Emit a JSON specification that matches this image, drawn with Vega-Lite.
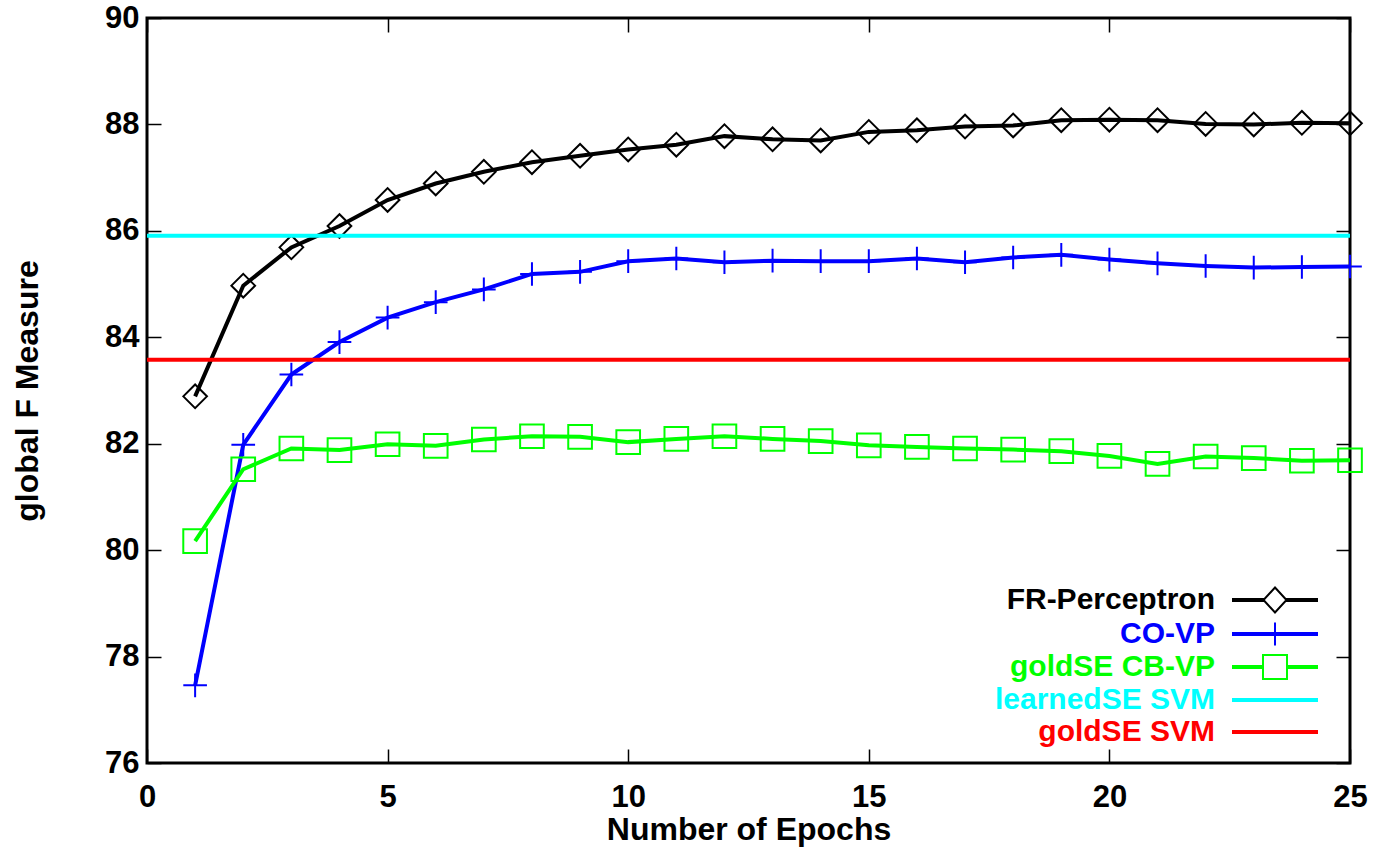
{
  "$schema": "https://vega.github.io/schema/vega-lite/v6.json",
  "autosize": {"type": "none"},
  "padding": {"left": 147, "top": 18, "right": 29, "bottom": 87},
  "width": 1203,
  "height": 745,
  "background": "white",
  "config": {
    "view": {"stroke": "black", "strokeWidth": 3},
    "font": "Liberation Sans",
    "axis": {
      "domain": false,
      "grid": false,
      "tickColor": "black",
      "tickWidth": 1.5,
      "tickSize": -14,
      "labelFont": "Liberation Sans",
      "labelFontWeight": "bold",
      "labelFontSize": 31,
      "labelColor": "black",
      "titleFont": "Liberation Sans",
      "titleFontWeight": "bold",
      "titleFontSize": 32,
      "titleColor": "black",
      "labelFlush": false,
      "labelOverlap": false
    },
    "legend": {
      "orient": "none",
      "legendX": 1112,
      "legendY": 566,
      "padding": 0,
      "labelFont": "Liberation Sans",
      "labelFontSize": 30,
      "labelFontWeight": "bold",
      "labelAlign": "right",
      "labelOffset": -76,
      "labelLimit": 400,
      "symbolSize": 900,
      "symbolStrokeWidth": 2,
      "rowPadding": 1
    }
  },
  "datasets": {
    "series": [
      {"epoch": 1, "series": "FR-Perceptron", "f": 82.89},
      {"epoch": 2, "series": "FR-Perceptron", "f": 84.97},
      {"epoch": 3, "series": "FR-Perceptron", "f": 85.69},
      {"epoch": 4, "series": "FR-Perceptron", "f": 86.09},
      {"epoch": 5, "series": "FR-Perceptron", "f": 86.58},
      {"epoch": 6, "series": "FR-Perceptron", "f": 86.89},
      {"epoch": 7, "series": "FR-Perceptron", "f": 87.11},
      {"epoch": 8, "series": "FR-Perceptron", "f": 87.29},
      {"epoch": 9, "series": "FR-Perceptron", "f": 87.41},
      {"epoch": 10, "series": "FR-Perceptron", "f": 87.53},
      {"epoch": 11, "series": "FR-Perceptron", "f": 87.62},
      {"epoch": 12, "series": "FR-Perceptron", "f": 87.78},
      {"epoch": 13, "series": "FR-Perceptron", "f": 87.72},
      {"epoch": 14, "series": "FR-Perceptron", "f": 87.70},
      {"epoch": 15, "series": "FR-Perceptron", "f": 87.86},
      {"epoch": 16, "series": "FR-Perceptron", "f": 87.89},
      {"epoch": 17, "series": "FR-Perceptron", "f": 87.96},
      {"epoch": 18, "series": "FR-Perceptron", "f": 87.98},
      {"epoch": 19, "series": "FR-Perceptron", "f": 88.08},
      {"epoch": 20, "series": "FR-Perceptron", "f": 88.09},
      {"epoch": 21, "series": "FR-Perceptron", "f": 88.08},
      {"epoch": 22, "series": "FR-Perceptron", "f": 88.01},
      {"epoch": 23, "series": "FR-Perceptron", "f": 88.00},
      {"epoch": 24, "series": "FR-Perceptron", "f": 88.03},
      {"epoch": 25, "series": "FR-Perceptron", "f": 88.02},
      {"epoch": 1, "series": "CO-VP", "f": 77.46},
      {"epoch": 2, "series": "CO-VP", "f": 81.98},
      {"epoch": 3, "series": "CO-VP", "f": 83.30},
      {"epoch": 4, "series": "CO-VP", "f": 83.91},
      {"epoch": 5, "series": "CO-VP", "f": 84.37},
      {"epoch": 6, "series": "CO-VP", "f": 84.66},
      {"epoch": 7, "series": "CO-VP", "f": 84.90},
      {"epoch": 8, "series": "CO-VP", "f": 85.19},
      {"epoch": 9, "series": "CO-VP", "f": 85.23},
      {"epoch": 10, "series": "CO-VP", "f": 85.43},
      {"epoch": 11, "series": "CO-VP", "f": 85.48},
      {"epoch": 12, "series": "CO-VP", "f": 85.41},
      {"epoch": 13, "series": "CO-VP", "f": 85.44},
      {"epoch": 14, "series": "CO-VP", "f": 85.43},
      {"epoch": 15, "series": "CO-VP", "f": 85.43},
      {"epoch": 16, "series": "CO-VP", "f": 85.48},
      {"epoch": 17, "series": "CO-VP", "f": 85.41},
      {"epoch": 18, "series": "CO-VP", "f": 85.50},
      {"epoch": 19, "series": "CO-VP", "f": 85.55},
      {"epoch": 20, "series": "CO-VP", "f": 85.46},
      {"epoch": 21, "series": "CO-VP", "f": 85.39},
      {"epoch": 22, "series": "CO-VP", "f": 85.34},
      {"epoch": 23, "series": "CO-VP", "f": 85.31},
      {"epoch": 24, "series": "CO-VP", "f": 85.32},
      {"epoch": 25, "series": "CO-VP", "f": 85.33},
      {"epoch": 1, "series": "goldSE CB-VP", "f": 80.17},
      {"epoch": 2, "series": "goldSE CB-VP", "f": 81.52},
      {"epoch": 3, "series": "goldSE CB-VP", "f": 81.91},
      {"epoch": 4, "series": "goldSE CB-VP", "f": 81.88},
      {"epoch": 5, "series": "goldSE CB-VP", "f": 81.99},
      {"epoch": 6, "series": "goldSE CB-VP", "f": 81.96},
      {"epoch": 7, "series": "goldSE CB-VP", "f": 82.08},
      {"epoch": 8, "series": "goldSE CB-VP", "f": 82.14},
      {"epoch": 9, "series": "goldSE CB-VP", "f": 82.13},
      {"epoch": 10, "series": "goldSE CB-VP", "f": 82.03},
      {"epoch": 11, "series": "goldSE CB-VP", "f": 82.09},
      {"epoch": 12, "series": "goldSE CB-VP", "f": 82.14},
      {"epoch": 13, "series": "goldSE CB-VP", "f": 82.09},
      {"epoch": 14, "series": "goldSE CB-VP", "f": 82.05},
      {"epoch": 15, "series": "goldSE CB-VP", "f": 81.97},
      {"epoch": 16, "series": "goldSE CB-VP", "f": 81.94},
      {"epoch": 17, "series": "goldSE CB-VP", "f": 81.91},
      {"epoch": 18, "series": "goldSE CB-VP", "f": 81.89},
      {"epoch": 19, "series": "goldSE CB-VP", "f": 81.86},
      {"epoch": 20, "series": "goldSE CB-VP", "f": 81.77},
      {"epoch": 21, "series": "goldSE CB-VP", "f": 81.62},
      {"epoch": 22, "series": "goldSE CB-VP", "f": 81.76},
      {"epoch": 23, "series": "goldSE CB-VP", "f": 81.73},
      {"epoch": 24, "series": "goldSE CB-VP", "f": 81.68},
      {"epoch": 25, "series": "goldSE CB-VP", "f": 81.69}
    ],
    "svm": [
      {"series": "learnedSE SVM", "f": 85.91},
      {"series": "goldSE SVM", "f": 83.58}
    ]
  },
  "resolve": {
    "axis": {"x": "independent", "y": "independent"},
    "scale": {"shape": "independent"}
  },
  "layer": [
    {
      "data": {"name": "series"},
      "mark": {"type": "line", "strokeWidth": 4},
      "encoding": {
        "x": {"field": "epoch", "type": "quantitative",
              "scale": {"domain": [0, 25], "nice": false, "zero": false},
              "axis": {"orient": "bottom", "values": [0, 5, 10, 15, 20, 25], "title": "Number of Epochs", "labelPadding": 33, "titlePadding": 2}},
        "y": {"field": "f", "type": "quantitative",
              "scale": {"domain": [76, 90], "nice": false, "zero": false},
              "axis": {"orient": "left", "values": [76, 78, 80, 82, 84, 86, 88, 90], "title": "global F Measure", "labelPadding": 22, "titlePadding": 60}},
        "color": {"field": "series", "type": "nominal",
                  "scale": {"domain": ["FR-Perceptron", "CO-VP", "goldSE CB-VP", "learnedSE SVM", "goldSE SVM"],
                            "range": ["#000000", "#0000ff", "#00ff00", "#00ffff", "#ff0000"]},
                  "legend": null},
        "detail": {"field": "series"}
      }
    },
    {
      "data": {"name": "series"},
      "mark": {"type": "point", "filled": false, "size": 560, "strokeWidth": 2, "opacity": 1},
      "encoding": {
        "x": {"field": "epoch", "type": "quantitative",
              "scale": {"domain": [0, 25], "nice": false, "zero": false},
              "axis": {"orient": "top", "values": [0, 5, 10, 15, 20, 25], "labels": false, "title": null}},
        "y": {"field": "f", "type": "quantitative",
              "scale": {"domain": [76, 90], "nice": false, "zero": false},
              "axis": {"orient": "right", "values": [76, 78, 80, 82, 84, 86, 88, 90], "labels": false, "title": null}},
        "color": {"field": "series", "type": "nominal",
                  "scale": {"domain": ["FR-Perceptron", "CO-VP", "goldSE CB-VP", "learnedSE SVM", "goldSE SVM"],
                            "range": ["#000000", "#0000ff", "#00ff00", "#00ffff", "#ff0000"]},
                  "legend": null},
        "shape": {"field": "series", "type": "nominal",
                  "scale": {"domain": ["FR-Perceptron", "CO-VP", "goldSE CB-VP"],
                            "range": ["diamond", "M-1,0L1,0M0,-1L0,1", "square"]},
                  "legend": null}
      }
    },
    {
      "data": {"name": "svm"},
      "mark": {"type": "rule", "strokeWidth": 4},
      "encoding": {
        "y": {"field": "f", "type": "quantitative",
              "scale": {"domain": [76, 90], "nice": false, "zero": false},
              "axis": null},
        "color": {"field": "series", "type": "nominal",
                  "scale": {"domain": ["FR-Perceptron", "CO-VP", "goldSE CB-VP", "learnedSE SVM", "goldSE SVM"],
                            "range": ["#000000", "#0000ff", "#00ff00", "#00ffff", "#ff0000"]},
                  "legend": null}
      }
    },
    {
      "data": {"name": "svm"},
      "mark": {"type": "point", "filled": false, "opacity": 0, "strokeWidth": 2},
      "encoding": {
        "y": {"field": "f", "type": "quantitative",
              "scale": {"domain": [76, 90], "nice": false, "zero": false},
              "axis": null},
        "shape": {"field": "series", "type": "nominal",
                  "scale": {"domain": ["FR-Perceptron", "CO-VP", "goldSE CB-VP", "learnedSE SVM", "goldSE SVM"],
                            "range": [
                              "M-2.8,-0.067L-0.767,-0.067L-0.767,0.067L-2.8,0.067ZM0.767,-0.067L2.8,-0.067L2.8,0.067L0.767,0.067ZM0,-0.833L0.767,0L0,0.833L-0.767,0Z",
                              "M-2.8,-0.067L2.8,-0.067L2.8,0.067L-2.8,0.067ZM0,-0.767L0,0.767",
                              "M-2.8,-0.067L-0.8,-0.067L-0.8,0.067L-2.8,0.067ZM0.8,-0.067L2.8,-0.067L2.8,0.067L0.8,0.067ZM-0.8,-0.8L0.8,-0.8L0.8,0.8L-0.8,0.8Z",
                              "M-2.8,-0.067L2.8,-0.067L2.8,0.067L-2.8,0.067Z",
                              "M-2.8,-0.067L2.8,-0.067L2.8,0.067L-2.8,0.067Z"
                            ]},
                  "legend": {
                     "title": null,
                     "symbolOpacity": 1,
                     "symbolStrokeColor": {"expr": "datum.value === 'CO-VP' ? '#0000ff' : datum.value === 'goldSE CB-VP' ? '#00ff00' : datum.value === 'learnedSE SVM' ? '#00ffff' : datum.value === 'goldSE SVM' ? '#ff0000' : '#000000'"},
                     "labelColor": {"expr": "datum.value === 'CO-VP' ? '#0000ff' : datum.value === 'goldSE CB-VP' ? '#00ff00' : datum.value === 'learnedSE SVM' ? '#00ffff' : datum.value === 'goldSE SVM' ? '#ff0000' : '#000000'"}
                  }}
      }
    }
  ]
}
